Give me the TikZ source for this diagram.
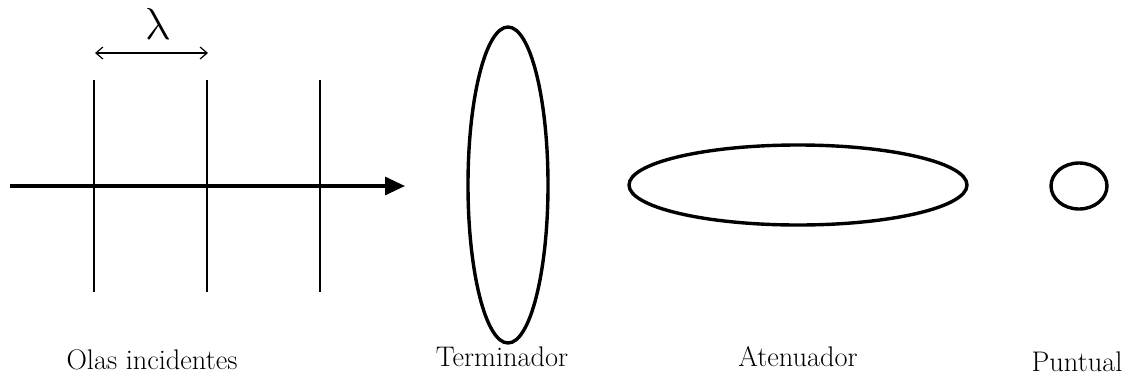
\documentclass[tikz,border=0pt]{standalone}
\usetikzlibrary{arrows.meta}
\begin{document}
\begin{tikzpicture}[x=1pt,y=-1pt,
  wave/.style={line width=1.3pt},
  outline/.style={line width=3.4pt},
  lbl/.style={font=\fontsize{24.88}{28}\selectfont, scale=1.14, inner sep=0pt}]
\useasboundingbox (0,0) rectangle (1135,381);
% wave fronts
\coordinate (w1t) at (94,80); \coordinate (w1b) at (94,292);
\coordinate (w2t) at (207,80); \coordinate (w2b) at (207,292);
\coordinate (w3t) at (320,80); \coordinate (w3b) at (320,292);
\draw[wave] (w1t) -- (w1b);
\draw[wave] (w2t) -- (w2b);
\draw[wave] (w3t) -- (w3b);
% lambda
\coordinate (la) at (95,53); \coordinate (lb) at (208,53);
\draw[line width=1.2pt, {Straight Barb[length=7pt,width=12pt]}-{Straight Barb[length=7pt,width=12pt]}] (la) -- (lb);
\begin{scope}[shift={(155,24)}, xslant=-0.2]
\node[inner sep=0pt, scale=1.8, transform shape] (lam) at (0,0) {\Huge$\lambda$};
\end{scope}
% main arrow
\coordinate (as) at (10,186); \coordinate (ae) at (405,186);
\draw[line width=3.2pt, -{Triangle[length=20pt,width=18pt]}] (as) -- (ae);
% shapes
\draw[outline] (508,185) ellipse [x radius=40, y radius=158];
\draw[outline] (798,185) ellipse [x radius=169, y radius=40];
\draw[outline] (1079,186) ellipse [x radius=28, y radius=23];
% labels
\node[lbl] (l1) at (152,360) {Olas incidentes};
\node[lbl] (l2) at (502,357) {Terminador};
\node[lbl] (l3) at (798,357) {Atenuador};
\node[lbl] (l4) at (1077,362) {Puntual};
\end{tikzpicture}
\end{document}
